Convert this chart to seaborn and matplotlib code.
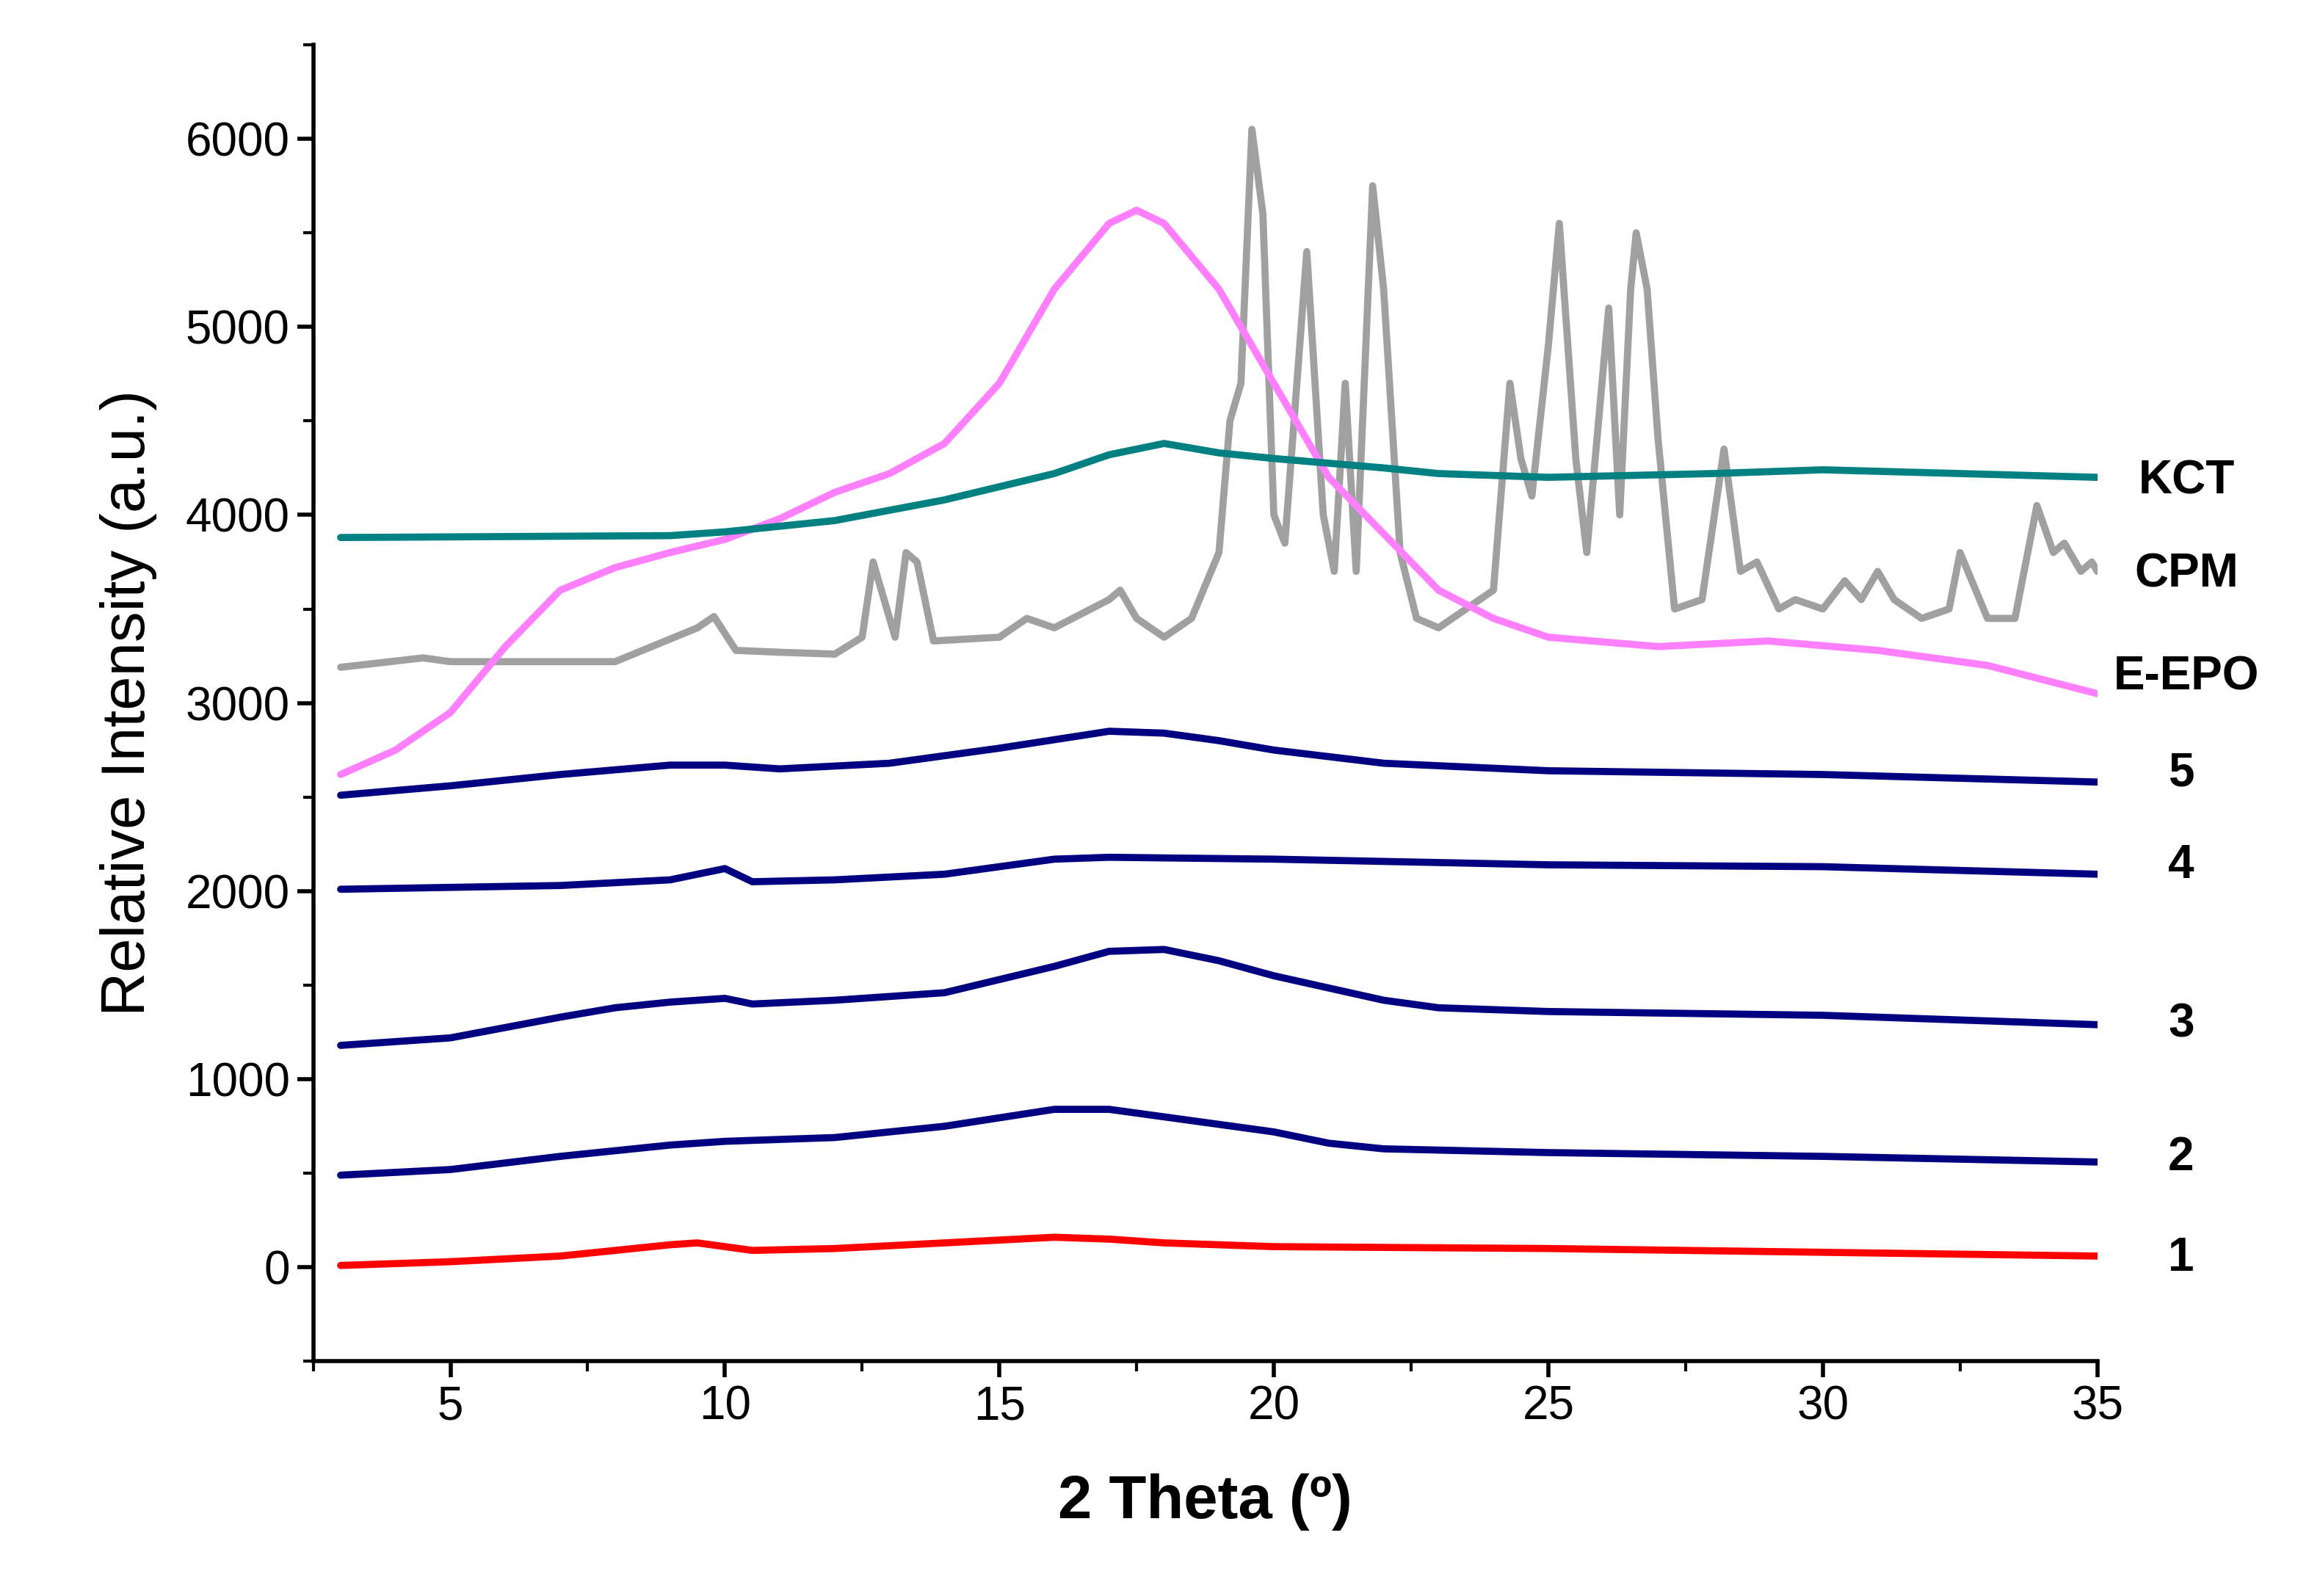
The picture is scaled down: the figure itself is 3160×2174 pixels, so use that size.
import matplotlib
matplotlib.use('Agg')
import matplotlib.pyplot as plt
import matplotlib.transforms as mtransforms
from matplotlib.ticker import MultipleLocator
import pandas as pd
import seaborn as sns

sns.set_style('ticks')
plt.rcParams['font.family'] = ['Liberation Sans', 'DejaVu Sans']
plt.rcParams.update({'text.color': 'black', 'axes.labelcolor': 'black',
                     'xtick.color': 'black', 'ytick.color': 'black', 'axes.edgecolor': 'black'})

# curve values (2 theta, intensity)
x1 = [3, 5, 7, 9, 9.5, 10, 10.5, 12, 14, 16, 17, 18, 20, 25, 30, 35]
y1 = [10, 30, 60, 120, 130, 110, 90, 100, 130, 160, 150, 130, 110, 100, 80, 60]

x2 = [3, 5, 7, 9, 10, 12, 14, 16, 17, 18, 20, 21, 22, 25, 30, 35]
y2 = [490, 520, 590, 650, 670, 690, 750, 840, 840, 800, 720, 660, 630, 610, 590, 560]

x3 = [3, 5, 7, 8, 9, 10, 10.5, 12, 14, 16, 17, 18, 19, 20, 22, 23, 25, 30, 35]
y3 = [1180, 1220, 1330, 1380, 1410, 1430, 1400, 1420, 1460, 1600, 1680, 1690, 1630, 1550, 1420, 1380, 1360, 1340, 1290]

x4 = [3, 7, 9, 10, 10.5, 12, 14, 16, 17, 20, 25, 30, 35]
y4 = [2010, 2030, 2060, 2120, 2050, 2060, 2090, 2170, 2180, 2170, 2140, 2130, 2090]

x5 = [3, 5, 7, 9, 10, 11, 13, 15, 17, 18, 19, 20, 22, 25, 30, 35]
y5 = [2510, 2560, 2620, 2670, 2670, 2650, 2680, 2760, 2850, 2840, 2800, 2750, 2680, 2640, 2620, 2580]

x_cpm = [3, 4.5, 5, 8, 9.5, 9.8, 10.2, 11, 12, 12.5, 12.7, 12.9, 13.1, 13.3, 13.5, 13.8, 15, 15.5, 16,
         17, 17.2, 17.5, 18, 18.5, 19, 19.2, 19.4, 19.6, 19.8, 20, 20.2, 20.6, 20.9, 21.1, 21.3, 21.5,
         21.8, 22, 22.3, 22.6, 23, 23.5, 24, 24.3, 24.5, 24.7, 25, 25.2, 25.5, 25.7, 26.1, 26.3, 26.5,
         26.6, 26.8, 27, 27.3, 27.8, 28.2, 28.5, 28.8, 29.2, 29.5, 30, 30.4, 30.7, 31, 31.3, 31.8,
         32.3, 32.5, 33, 33.5, 33.9, 34.2, 34.4, 34.7, 34.9, 35]
y_cpm = [3190, 3240, 3220, 3220, 3400, 3460, 3280, 3270, 3260, 3350, 3750, 3550, 3350, 3800, 3750, 3330,
         3350, 3450, 3400, 3550, 3600, 3450, 3350, 3450, 3800, 4500, 4700, 6050, 5600, 4000, 3850, 5400,
         4000, 3700, 4700, 3700, 5750, 5200, 3800, 3450, 3400, 3500, 3600, 4700, 4300, 4100, 4900, 5550,
         4300, 3800, 5100, 4000, 5200, 5500, 5200, 4400, 3500, 3550, 4350, 3700, 3750, 3500, 3550, 3500,
         3650, 3550, 3700, 3550, 3450, 3500, 3800, 3450, 3450, 4050, 3800, 3850, 3700, 3750, 3700]

x_epo = [3, 4, 5, 6, 7, 8, 9, 10, 11, 12, 13, 14, 15, 16, 17, 17.5, 18, 19, 20, 21, 22, 23, 24, 25,
         27, 29, 31, 33, 35]
y_epo = [2620, 2750, 2950, 3300, 3600, 3720, 3800, 3870, 3980, 4120, 4220, 4380, 4700, 5200, 5550,
         5620, 5550, 5200, 4700, 4200, 3900, 3600, 3450, 3350, 3300, 3330, 3280, 3200, 3050]

x_kct = [3, 9, 10, 12, 14, 16, 17, 18, 19, 20, 22, 23, 25, 28, 30, 35]
y_kct = [3880, 3890, 3910, 3970, 4080, 4220, 4320, 4380, 4330, 4300, 4250, 4220, 4200, 4220, 4240, 4200]

labels = ['1', '2', '3', '4', '5', 'CPM', 'E-EPO', 'KCT']
label_y = [47, 584, 1293, 2137, 2626, 3683, 3139, 4180]

curves = [(x1, y1, 'red'), (x2, y2, '#000080'), (x3, y3, '#000080'), (x4, y4, '#000080'),
          (x5, y5, '#000080'), (x_cpm, y_cpm, '#A0A0A0'), (x_epo, y_epo, '#FF80FF'),
          (x_kct, y_kct, '#008080')]

fig = plt.figure(figsize=(15.8, 10.87), dpi=200)
ax = fig.add_axes([0.135, 0.147, 0.769, 0.825])

for xs, ys, c in curves:
    df = pd.DataFrame({'x': xs, 'y': ys})
    sns.lineplot(data=df, x='x', y='y', color=c, linewidth=3.5, ax=ax, sort=False)

ax.set_xlim(2.5, 35)
ax.set_ylim(-500, 6500)
ax.xaxis.set_major_locator(MultipleLocator(5))
ax.xaxis.set_minor_locator(MultipleLocator(2.5))
ax.yaxis.set_major_locator(MultipleLocator(1000))
ax.yaxis.set_minor_locator(MultipleLocator(500))
ax.tick_params(which='major', direction='out', length=8, width=2, labelsize=23)
ax.tick_params(which='minor', direction='out', length=5, width=1.5)
for s in ['left', 'bottom']:
    ax.spines[s].set_linewidth(2)
sns.despine(ax=ax)

ax.set_xlabel('2 Theta (º)', fontsize=30, fontweight='bold', labelpad=22)
ax.set_ylabel('Relative Intensity (a.u.)', fontsize=30, labelpad=14)

trans = mtransforms.blended_transform_factory(ax.transAxes, ax.transData)
for lab, yy in zip(labels, label_y):
    xpos = 1.05 if len(lab) > 1 else 1.047
    ax.text(xpos, yy, lab, transform=trans, ha='center', va='center', fontsize=23,
            fontweight='bold', clip_on=False)

fig.savefig('out.png', dpi=200)
